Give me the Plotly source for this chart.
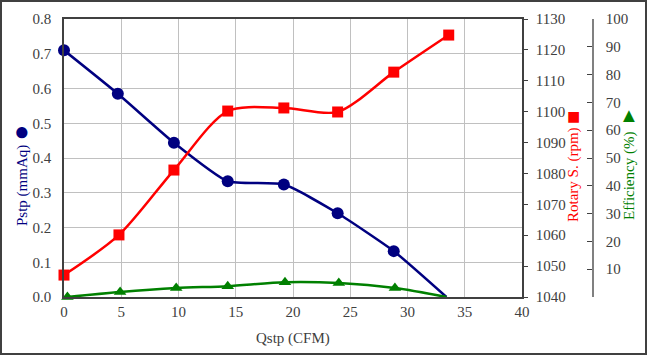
import plotly.graph_objects as go

q_p = [0.0, 4.7, 9.6, 14.3, 19.2, 23.9, 28.8, 33.4]
pstp = [0.71, 0.585, 0.444, 0.333, 0.324, 0.241, 0.132, 0.0]

q_r = [0.0, 4.8, 9.6, 14.3, 19.2, 23.9, 28.8, 33.6]
rpm = [1047.1, 1060.1, 1081.1, 1100.2, 1101.2, 1099.9, 1112.8, 1124.8]

q_e = [0.3, 4.9, 9.8, 14.3, 19.3, 24.0, 28.9, 33.4]
eff = [0.0, 1.8, 3.2, 3.9, 5.3, 5.0, 3.2, 0.0]

L, R, T, B = 64, 40, 19, 59
W, H = 647, 356
pw = W - L - R
ph = H - T - B
def px(x):
    return (x - L) / pw
def py(y):
    return (H - B - y) / ph

font = "Times New Roman, Liberation Serif, serif"
fig = go.Figure()
fig.add_trace(go.Scatter(x=q_p, y=pstp, mode="lines+markers", opacity=1, line=dict(color="#000080", width=2.5, shape="spline", smoothing=0.5),
                         marker=dict(symbol="circle", size=[12]*7 + [0], color="#000080", opacity=1, line=dict(width=0)), yaxis="y", cliponaxis=False))
fig.add_trace(go.Scatter(x=q_r, y=rpm, mode="lines+markers", opacity=1, line=dict(color="#FF0000", width=2.5, shape="spline", smoothing=0.8),
                         marker=dict(symbol="square", size=11, color="#FF0000", opacity=1, line=dict(width=0)), yaxis="y2", cliponaxis=False))
fig.add_trace(go.Scatter(x=q_e, y=eff, mode="lines+markers", opacity=1, line=dict(color="#008000", width=2.5, shape="spline", smoothing=0.8),
                         marker=dict(symbol="triangle-up", size=[11]*7 + [0], color="#008000", opacity=1, line=dict(width=0)), yaxis="y3", cliponaxis=False))

grid = "#C0C0C0"
box = "#404040"
tf = dict(family=font, size=15, color="#404040")
def ann(text, x, y, color, size=15, angle=0):
    return dict(text=text, x=px(x), y=py(y), xref="paper", yref="paper", textangle=angle, showarrow=False,
                xanchor="center", yanchor="middle", font=dict(family=font, size=size, color=color))
fig.update_layout(
    width=W, height=H, margin=dict(l=L, r=R, t=T, b=B, autoexpand=False),
    paper_bgcolor="white", plot_bgcolor="white", showlegend=False,
    font=dict(family=font),
    xaxis=dict(domain=[0, (522 - L) / pw], range=[0, 40], dtick=5, showgrid=True, gridcolor=grid,
               showline=True, linecolor=box, linewidth=1.5, mirror=True, ticks="", tickfont=tf,
               zeroline=False, automargin=False),
    yaxis=dict(range=[0, 0.8], dtick=0.1, tickformat=".1f", showgrid=True, gridcolor=grid,
               showline=True, linecolor=box, linewidth=1.5, ticks="", tickfont=tf, zeroline=False,
               ticklabelstandoff=8, automargin=False),
    yaxis2=dict(range=[1040, 1130], dtick=10, overlaying="y", side="right", anchor="x",
                showgrid=False, showline=True, linecolor=box, linewidth=1.5, ticks="outside", ticklen=4,
                tickcolor=box, tickfont=tf, zeroline=False, ticklabelstandoff=5, automargin=False),
    yaxis3=dict(range=[0, 100], tickvals=list(range(0, 101, 10)), ticktext=[""] + [str(v) for v in range(10, 101, 10)],
                overlaying="y", side="right", anchor="free", position=px(593),
                showgrid=False, showline=True, linecolor="#808080", linewidth=1.5, ticks="inside", ticklen=5,
                tickcolor=box, tickfont=tf, zeroline=False, ticklabelstandoff=9, automargin=False),
    shapes=[dict(type="rect", xref="paper", yref="paper", x0=px(1), x1=px(646), y0=py(354), y1=py(1),
                 line=dict(color="#404040", width=2))],
    annotations=[
        ann("Qstp (CFM)", 293, 338, "#404040"),
        ann("Pstp (mmAq)", 22, 186, "#000080", angle=-90),
        ann("●", 22, 131, "#000080", size=26),
        ann("Rotary S. (rpm)", 573, 175, "#FF0000", angle=-90),
        ann("■", 573, 116, "#FF0000", size=22),
        ann("Efficiency (%)", 629, 176, "#008000", angle=-90),
        ann("▲", 629, 115, "#008000", size=20),
    ],
)
fig.write_html("out.html", config={"displayModeBar": False},
               post_script="document.body.style.margin='0';document.body.style.overflow='hidden';")
